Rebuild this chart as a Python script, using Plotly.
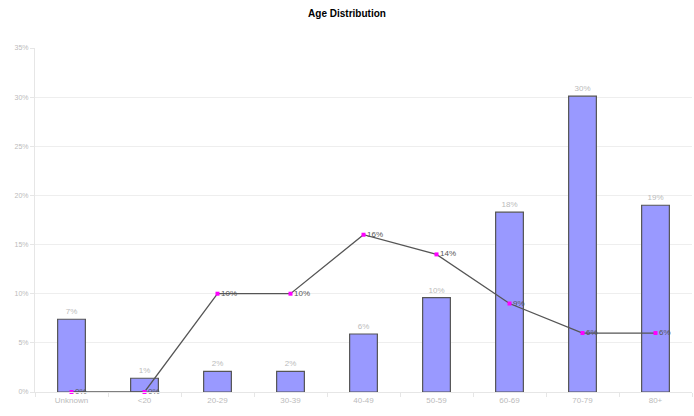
import plotly.graph_objects as go

categories = ["Unknown", "<20", "20-29", "30-39", "40-49", "50-59", "60-69", "70-79", "80+"]
bar_values = [7.4, 1.4, 2.1, 2.1, 5.9, 9.6, 18.3, 30.1, 19.0]
line_values = [0, 0, 10, 10, 16, 14, 9, 6, 6]
y_ticks = [0, 5, 10, 15, 20, 25, 30, 35]

fig = go.Figure()
fig.add_trace(go.Bar(
    x=categories, y=bar_values, width=0.38,
    marker=dict(color="#9999ff", line=dict(color="#555555", width=1.2)),
    text=[f"{v:.0f}%" for v in bar_values], textposition="outside",
    textfont=dict(size=8, color="#bbbbbb"), cliponaxis=False,
    showlegend=False,
))
fig.add_trace(go.Scatter(
    x=categories, y=line_values, mode="lines+markers+text",
    line=dict(color="#555555", width=1.3),
    marker=dict(color="#ff00ff", size=4, symbol="square"),
    text=[f"{v}%" for v in line_values], textposition="middle right",
    textfont=dict(size=8, color="#555555"), cliponaxis=False,
    showlegend=False,
))
fig.update_layout(
    width=694, height=416,
    margin=dict(l=35, r=2, t=48, b=24),
    paper_bgcolor="white", plot_bgcolor="white",
    font=dict(family="Liberation Sans, Arial, sans-serif"),
    title=dict(text="<b>Age Distribution</b>", x=0.5, xanchor="center", y=0.967, yanchor="middle",
               font=dict(size=10, color="#000000")),
    bargap=0.6,
)
fig.update_xaxes(
    type="category", showgrid=False, showline=True, linecolor="#e6e6e6",
    ticks="outside", tickson="boundaries", ticklen=4, tickcolor="#e6e6e6",
    tickfont=dict(size=8, color="#bbbbbb"),
)
fig.update_yaxes(
    range=[0, 35], tickvals=y_ticks, ticktext=[f"{v}%" for v in y_ticks],
    showgrid=True, gridcolor="#eeeeee", showline=True, linecolor="#e6e6e6",
    ticks="outside", ticklen=4, tickcolor="#e6e6e6",
    tickfont=dict(size=7, color="#bbbbbb"), zeroline=False,
)
fig.write_html("out.html")
